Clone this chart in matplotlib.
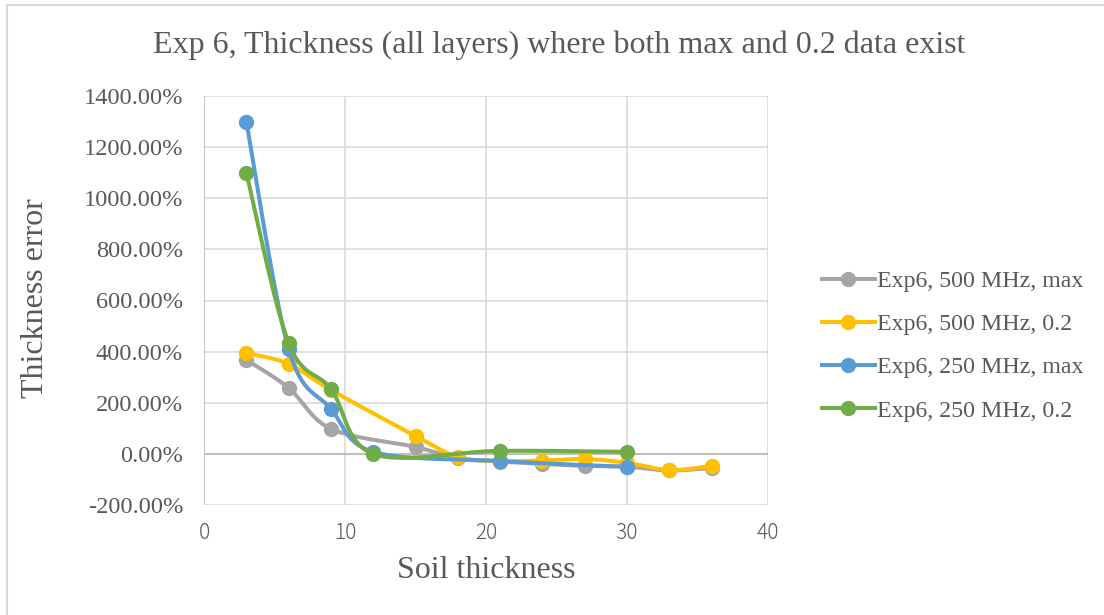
import numpy as np
import matplotlib
matplotlib.use("Agg")
import matplotlib.pyplot as plt
from matplotlib.lines import Line2D
from matplotlib.ticker import FuncFormatter

# Soil thickness positions for each frequency
x_500 = [3, 6, 9, 15, 18, 21, 24, 27, 30, 33, 36]
x_250 = [3, 6, 9, 12, 21, 30]

# Thickness error (%) per series
err_500_max = [368, 258, 98, 27, -17, -30, -39, -47, -50, -65, -55]
err_500_02 = [395, 352, 250, 70, -12, -28, -26, -20, -35, -63, -47]
err_250_max = [1300, 411, 176, 8, -28, -51]
err_250_02 = [1100, 434, 254, 0, 12, 8]

labels = ["Exp6, 500 MHz, max", "Exp6, 500 MHz, 0.2",
          "Exp6, 250 MHz, max", "Exp6, 250 MHz, 0.2"]
colors = ["#A5A5A5", "#FFC000", "#5B9BD5", "#70AD47"]
series = [(x_500, err_500_max), (x_500, err_500_02),
          (x_250, err_250_max), (x_250, err_250_02)]

x_ticks = [0, 10, 20, 30, 40]
y_ticks = list(range(-200, 1401, 200))

TEXT = "#595959"
SERIF = "Liberation Serif"

fig = plt.figure(figsize=(11.04, 6.15), dpi=100)
ax = fig.add_axes([204 / 1104, 1 - 505 / 615, (768 - 204) / 1104, (505 - 96) / 615])
ax.set_xlim(0, 40)
ax.set_ylim(-200, 1400)


def smooth(ax, xs, ys, n=30):
    """Bezier smoothing computed in screen space (Catmull-Rom style)."""
    pts = ax.transData.transform(np.column_stack([xs, ys]))
    out = [pts[0]]
    m = len(pts)
    for i in range(m - 1):
        p0 = pts[i - 1] if i > 0 else pts[i]
        p1 = pts[i]
        p2 = pts[i + 1]
        p3 = pts[i + 2] if i + 2 < m else pts[i + 1]
        c1 = p1 + (p2 - p0) / 6.0
        c2 = p2 - (p3 - p1) / 6.0
        t = np.linspace(0, 1, n)[1:, None]
        seg = ((1 - t) ** 3) * p1 + 3 * ((1 - t) ** 2) * t * c1 \
            + 3 * (1 - t) * t ** 2 * c2 + t ** 3 * p2
        out.extend(seg)
    out = np.array(out)
    return ax.transData.inverted().transform(out)


# grid
for v in y_ticks:
    ax.axhline(v, color="#D9D9D9", lw=1.2, zorder=0)
for v in x_ticks:
    ax.axvline(v, color="#D9D9D9", lw=1.2, zorder=0)
ax.axhline(0, color="#BFBFBF", lw=1.5, zorder=1)
ax.axvline(0, color="#BFBFBF", lw=1.2, zorder=1)

for k, ((xs, ys), c, lab) in enumerate(zip(series, colors, labels)):
    curve = smooth(ax, xs, ys)
    ax.plot(curve[:, 0], curve[:, 1], color=c, lw=2.9, zorder=2 + k,
            solid_capstyle="round")
    ax.plot(xs, ys, ls="none", marker="o", ms=10, color=c, zorder=2 + k)

for s in ax.spines.values():
    s.set_visible(False)

ax.set_xticks(x_ticks)
ax.set_yticks(y_ticks)
ax.yaxis.set_major_formatter(FuncFormatter(lambda v, p: f"{v:.2f}%"))
ax.tick_params(length=0, colors=TEXT)
ax.tick_params(axis="y", pad=15)
ax.tick_params(axis="x", pad=12)
for t in ax.get_yticklabels():
    t.set_fontfamily(SERIF)
    t.set_fontsize(17.6)
for t in ax.get_xticklabels():
    t.set_fontfamily(["Noto Sans CJK JP", "DejaVu Sans"])
    t.set_fontweight("light")
    t.set_fontsize(15)

fig.text(559 / 1104, 1 - 45 / 615,
         "Exp 6, Thickness (all layers) where both max and 0.2 data exist",
         ha="center", va="center", fontsize=23, family=SERIF, color=TEXT)
fig.text(36 / 1104, 1 - 298 / 615, "Thickness error", rotation=90,
         ha="center", va="center", fontsize=23, family=SERIF, color=TEXT)
fig.text(486 / 1104, 1 - 571 / 615, "Soil thickness",
         ha="center", va="center", fontsize=23, family=SERIF, color=TEXT)

handles = [Line2D([0], [0], color=c, lw=2.9, marker="o", ms=10) for c in colors]
leg = fig.legend(handles, labels, loc="center left",
                 bbox_to_anchor=(822 / 1104, 1 - 346 / 615),
                 frameon=False, borderpad=0, borderaxespad=0,
                 handlelength=2.2, handletextpad=0.1, labelspacing=0.9,
                 prop={"family": SERIF, "size": 17.2})
for t in leg.get_texts():
    t.set_color(TEXT)

# outer chart border (left and top edges)
fig.add_artist(Line2D([7 / 1104, 7 / 1104], [0, 1 - 5 / 615],
                      transform=fig.transFigure, color="#D9D9D9", lw=1.5))
fig.add_artist(Line2D([7 / 1104, 1], [1 - 5 / 615, 1 - 5 / 615],
                      transform=fig.transFigure, color="#D9D9D9", lw=1.5))

fig.savefig("out.png", dpi=100)
